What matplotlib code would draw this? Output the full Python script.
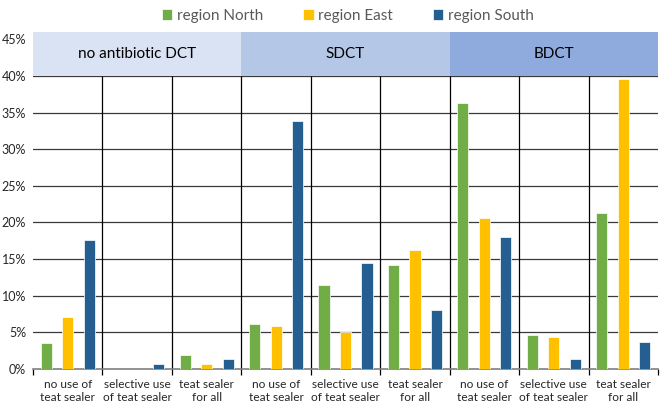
import matplotlib
matplotlib.use("Agg")
import matplotlib.pyplot as plt
import numpy as np
from matplotlib.patches import Rectangle

categories = ["no use of\nteat sealer", "selective use\nof teat sealer", "teat sealer\nfor all"] * 3
groups = ["no antibiotic DCT", "SDCT", "BDCT"]
series = ["region North", "region East", "region South"]

north = [3.5, 0.0, 1.9, 6.2, 11.4, 14.2, 36.3, 4.7, 21.3]
east = [7.1, 0.0, 0.7, 5.9, 5.1, 16.2, 20.6, 4.3, 39.6]
south = [17.6, 0.7, 1.4, 33.8, 14.5, 8.0, 18.0, 1.4, 3.7]

colors = ["#70AD47", "#FFC000", "#255E91"]
band_colors = ["#DAE3F3", "#B4C7E7", "#8FAADC"]

plt.rcParams["font.family"] = ["Lato", "DejaVu Sans"]

fig = plt.figure(figsize=(6.6, 4.05), dpi=100)
ax = fig.add_axes([33 / 660, 36 / 405, 625 / 660, 337 / 405])

x = np.arange(len(categories))
width = 0.16
offsets = [-0.31, 0.0, 0.31]
for vals, off, col, name in zip([north, east, south], offsets, colors, series):
    ax.bar(x + off, np.array(vals) / 100, width, color=col, edgecolor="white",
           linewidth=0.5, label=name, zorder=3)

ax.set_xlim(-0.5, len(categories) - 0.5)
ax.set_ylim(0, 0.46)

# horizontal gridlines
for yv in np.arange(0.05, 0.401, 0.05):
    ax.axhline(yv, color="#3a3a3a", linewidth=0.9, zorder=1)

# vertical dividers between categories
ax.vlines(np.arange(0.5, len(categories) - 0.5, 1), -0.008, 0.40, color="black",
          linewidth=0.9, zorder=2, clip_on=False)
ax.vlines([-0.5, len(categories) - 0.5], -0.008, 0.0, color="black",
          linewidth=0.9, clip_on=False)

# group header bands
for i, (g, bc) in enumerate(zip(groups, band_colors)):
    ax.add_patch(Rectangle((3 * i - 0.5, 0.40), 3, 0.06, facecolor=bc,
                           edgecolor="none", zorder=2))
    ax.text(3 * i + 1, 0.43, g, ha="center", va="center", fontsize=11,
            color="black", zorder=4)

ax.set_yticks(np.arange(0, 0.451, 0.05))
ax.set_yticklabels([f"{int(round(v * 100))}%" for v in np.arange(0, 0.451, 0.05)])
ax.set_xticks(x)
ax.set_xticklabels(categories, fontsize=8.6, linespacing=1.3)
ax.tick_params(axis="both", length=0, colors="#262626")
ax.tick_params(axis="y", pad=5, labelsize=9)
ax.tick_params(axis="x", pad=7)

for s in ["top", "right", "left"]:
    ax.spines[s].set_visible(False)
ax.spines["bottom"].set_color("#7f7f7f")
ax.spines["bottom"].set_linewidth(1.2)

fig.legend(loc="upper center", bbox_to_anchor=(0.527, 1.012), ncol=3, frameon=False,
           fontsize=11, handlelength=0.7, handleheight=0.7, handletextpad=0.3,
           columnspacing=2.6, labelcolor="#595959")

fig.savefig("out.png", dpi=100)
